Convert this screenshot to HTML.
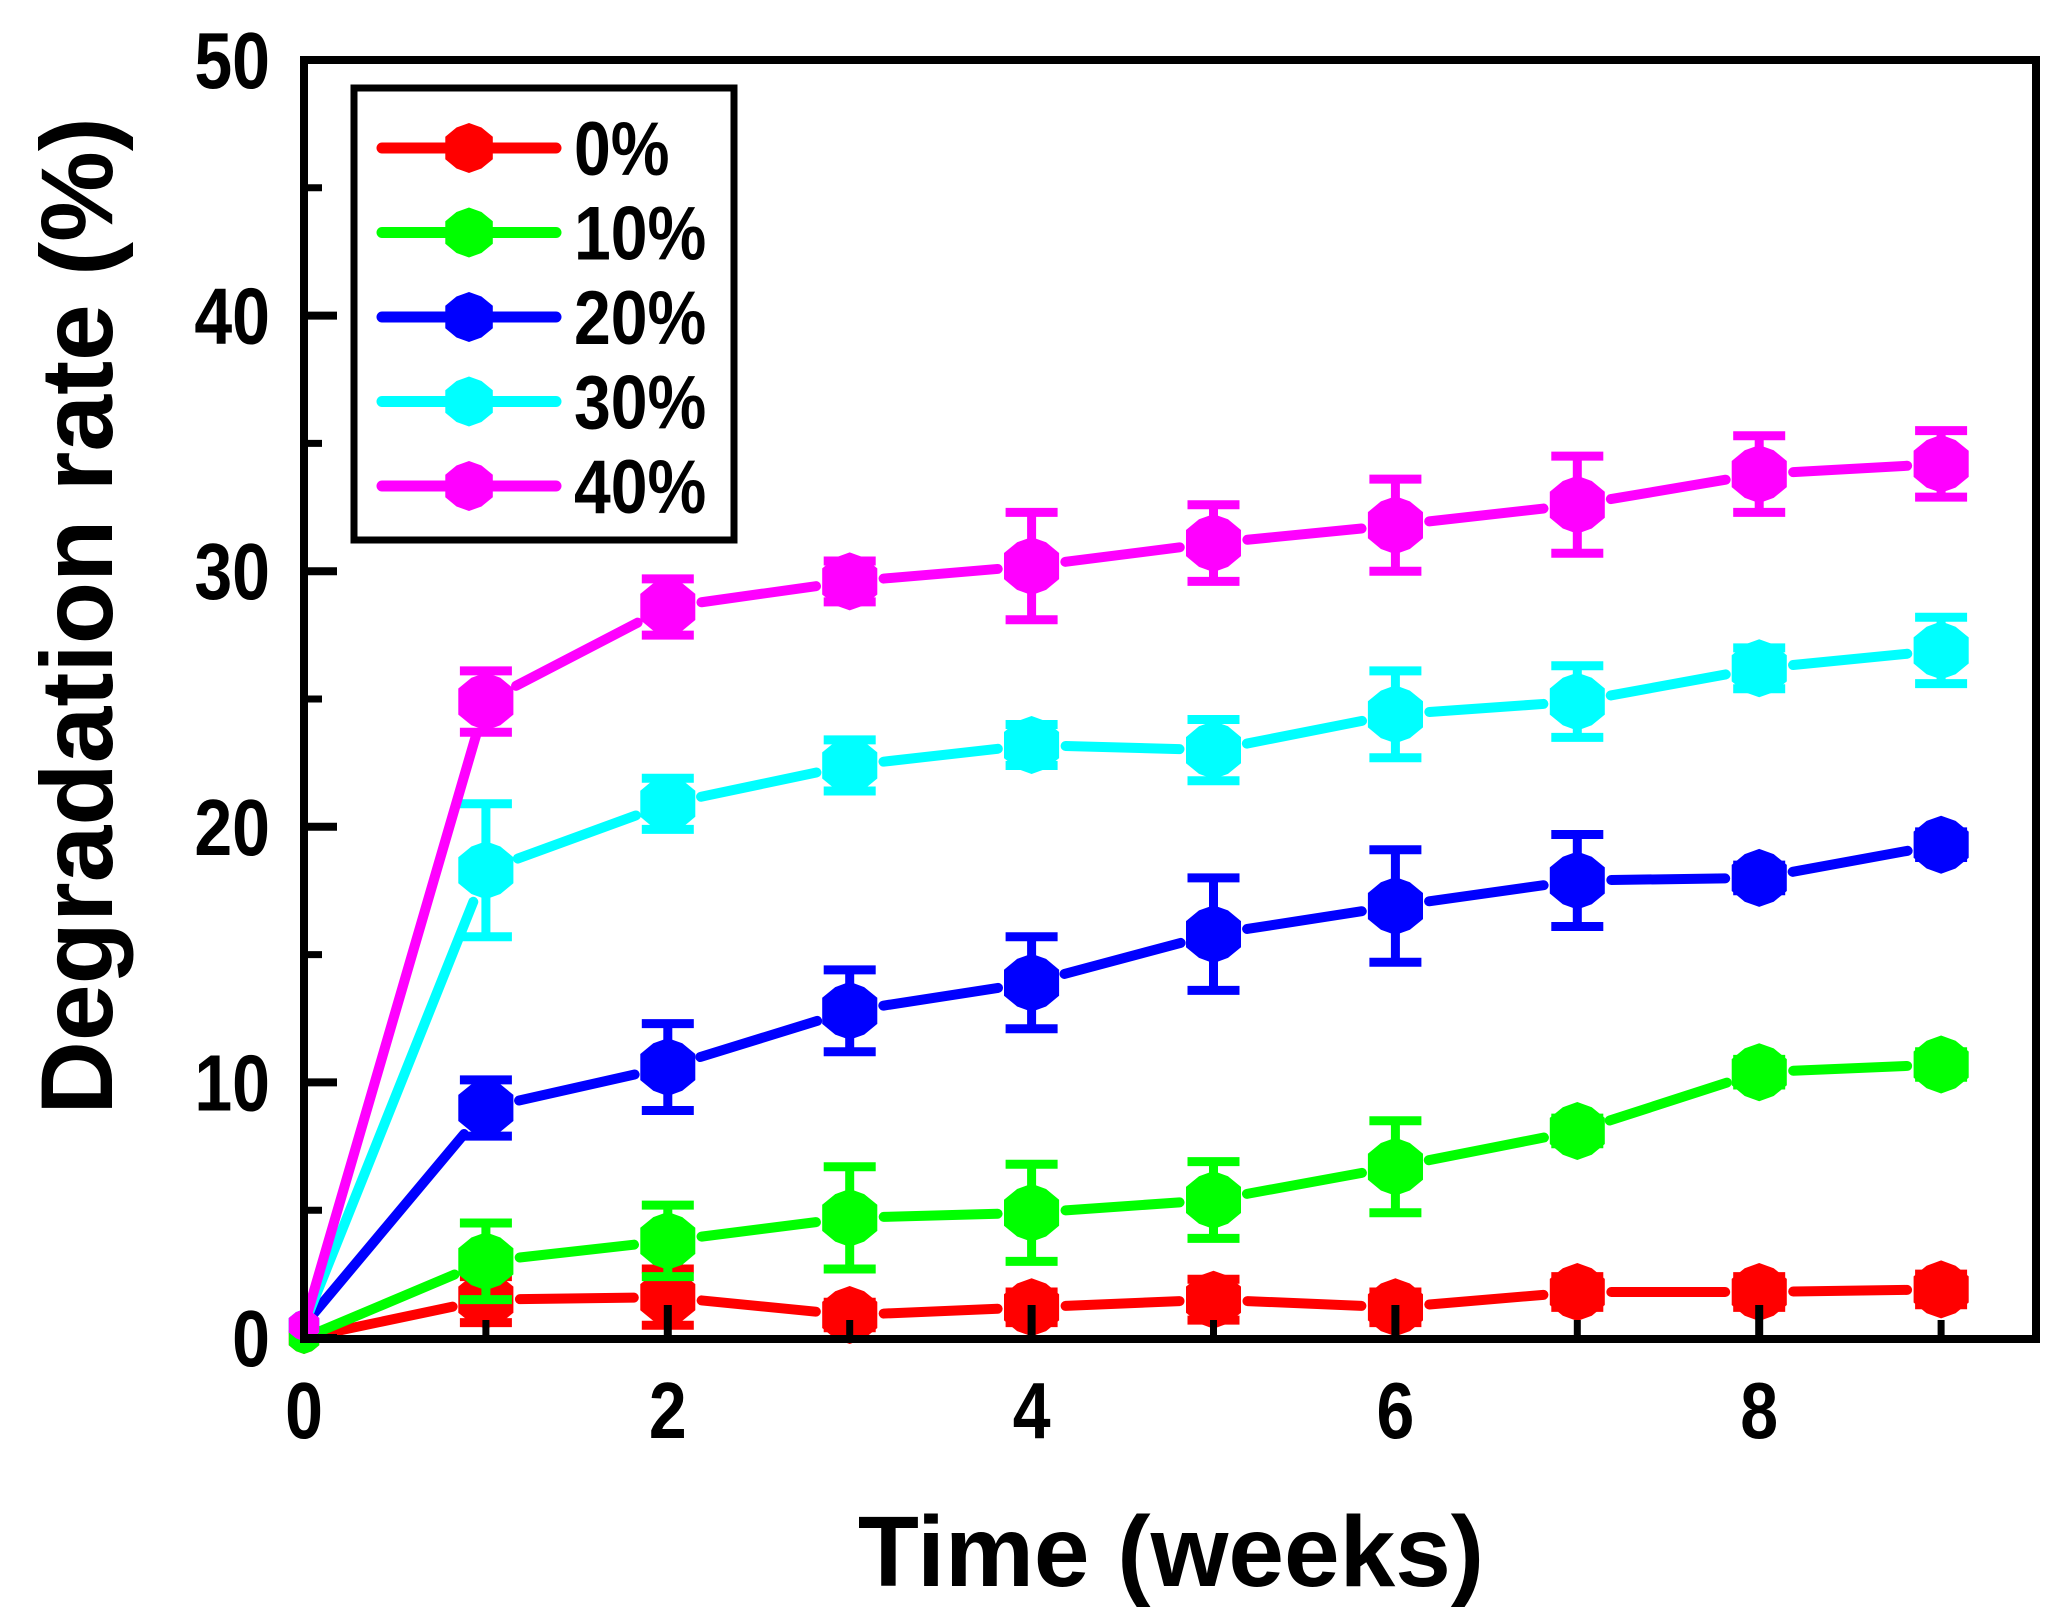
<!DOCTYPE html>
<html><head><meta charset="utf-8"><style>
body{margin:0;background:#fff}
svg{display:block}
text{font-family:"Liberation Sans",Arial,sans-serif;font-weight:bold;fill:#000}
</style></head><body>
<svg id="chart" width="2056" height="1624" viewBox="0 0 2056 1624">
<g id="series"></g>
<rect x="304" y="60" width="1732" height="1279" fill="none" stroke="#000" stroke-width="8"/>
<g id="axes"></g>
<text transform="translate(1171,1586) scale(1.0,1)" font-size="100" text-anchor="middle">Time (weeks)</text>
<text transform="translate(112,616) rotate(-90) scale(1.0,1)" font-size="102" text-anchor="middle">Degradation rate (%)</text>
<g id="legend">
<rect x="354" y="88" width="380" height="452" fill="#fff" stroke="#000" stroke-width="7"/>
</g>
</svg>
<script>
const weeks=[0,1,2,3,4,5,6,7,8,9];
const seriesNames=["0%","10%","20%","30%","40%"];
const seriesColors=["#ff0000","#00ff00","#0000ff","#00ffff","#ff00ff"];
const s0=[0,1.5,1.6,0.9,1.2,1.5,1.2,1.8,1.8,1.9];
const s10=[0,3.0,3.8,4.7,4.9,5.4,6.7,8.1,10.4,10.7];
const s20=[0.5,9.0,10.6,12.8,13.9,15.8,16.9,17.9,18.0,19.3];
const s30=[0.5,18.3,20.9,22.4,23.2,23.0,24.4,24.9,26.2,26.9];
const s40=[0.5,24.9,28.6,29.6,30.2,31.1,31.8,32.6,33.8,34.2];
const e0=[0,0.9,1.1,0.5,0.6,0.8,0.6,0.6,0.6,0.6];
const e10=[0,1.5,1.4,2.0,1.9,1.5,1.8,0.5,0.5,0.5];
const e20=[0,1.1,1.7,1.6,1.8,2.2,2.2,1.8,0.5,0.5];
const e30=[0,2.6,1.0,1.0,0.8,1.2,1.7,1.4,0.8,1.3];
const e40=[0,1.2,1.1,0.8,2.1,1.5,1.8,1.9,1.5,1.3];
const yTicks=[0,10,20,30,40,50];
const xTicks=[0,2,4,6,8];
const allVals=[s0,s10,s20,s30,s40];
const allErrs=[e0,e10,e20,e30,e40];

const NS="http://www.w3.org/2000/svg";
function X(v){return 304+v*181.9;}
function Y(v){return 1338-v*25.56;}
function mk(tag,attrs,parent){const el=document.createElementNS(NS,tag);for(const k in attrs)el.setAttribute(k,attrs[k]);parent.appendChild(el);return el;}
function markerPts(cx,cy,r){const p=[[0,-r],[r*0.5,-r*0.82],[r*0.95,-r*0.45],[r*0.95,r*0.45],[r*0.5,r*0.82],[0,r],[-r*0.5,r*0.82],[-r*0.95,r*0.45],[-r*0.95,-r*0.45],[-r*0.5,-r*0.82]];return p.map(q=>(cx+q[0]).toFixed(1)+","+(cy+q[1]).toFixed(1)).join(" ");}

const ax=document.getElementById('axes');
yTicks.forEach(t=>{
  const l=mk('line',{x1:304,x2:337,y1:Y(t),y2:Y(t),stroke:'#000','stroke-width':8},ax);
  
  
  const tx=mk('text',{transform:`translate(270,${Y(t)+28}) scale(0.85,1)`,'font-size':80,'text-anchor':'end'},ax);
  tx.textContent=t;
  
  
});
yTicks.slice(0,-1).forEach(t=>{
  const l=mk('line',{x1:304,x2:322,y1:Y(t+5),y2:Y(t+5),stroke:'#000','stroke-width':7},ax);
  
  
});
xTicks.forEach(t=>{
  const l=mk('line',{x1:X(t),x2:X(t),y1:1338,y2:1305,stroke:'#000','stroke-width':8},ax);
  
  
  const tx=mk('text',{transform:`translate(${X(t)},1438) scale(0.85,1)`,'font-size':80,'text-anchor':'middle'},ax);
  tx.textContent=t;
  
  
});
xTicks.forEach(t=>{
  const l=mk('line',{x1:X(t+1),x2:X(t+1),y1:1338,y2:1320,stroke:'#000','stroke-width':7},ax);
  
  
});

const sg=document.getElementById('series');
allVals.forEach((vals,si)=>{
  const c=seriesColors[si];
  const g=mk('g',{},sg);
  
  
  for(let i=0;i<weeks.length-1;i++){
    const x1=X(weeks[i]),y1=Y(vals[i]),x2=X(weeks[i+1]),y2=Y(vals[i+1]);
    const dx=x2-x1,dy=y2-y1,d=Math.hypot(dx,dy),g1=(i===0?12:34),g2=34;
    const l=mk('line',{x1:x1+dx*g1/d,y1:y1+dy*g1/d,x2:x2-dx*g2/d,y2:y2-dy*g2/d,stroke:c,'stroke-width':10,'stroke-linecap':'round'},g);
    
    
  }
  weeks.forEach((w,i)=>{
    const x=X(w),y=Y(vals[i]),e=allErrs[si][i];
    if(e>0){
      const yt=Y(vals[i]+e),yb=Y(vals[i]-e);
      const eb=mk('path',{d:`M${x},${yt}V${yb}M${x-26},${yt}H${x+26}M${x-26},${yb}H${x+26}`,stroke:c,'stroke-width':9,fill:'none'},g);
      
      
    }
    const m=mk('polygon',{points:markerPts(x,y,i===0?16:29),fill:c},g);
    
    
  });
});

const lg=document.getElementById('legend');
seriesNames.forEach((n,i)=>{
  const y=148+i*84.5,c=seriesColors[i];
  const l=mk('line',{x1:382,x2:556,y1:y,y2:y,stroke:c,'stroke-width':11,'stroke-linecap':'round'},lg);
  
  
  const m=mk('polygon',{points:markerPts(469,y,25),fill:c},lg);
  
  
  const t=mk('text',{transform:`translate(574,${y+27}) scale(0.87,1)`,'font-size':76},lg);
  t.textContent=n;
  
  
});
</script>
</body></html>
